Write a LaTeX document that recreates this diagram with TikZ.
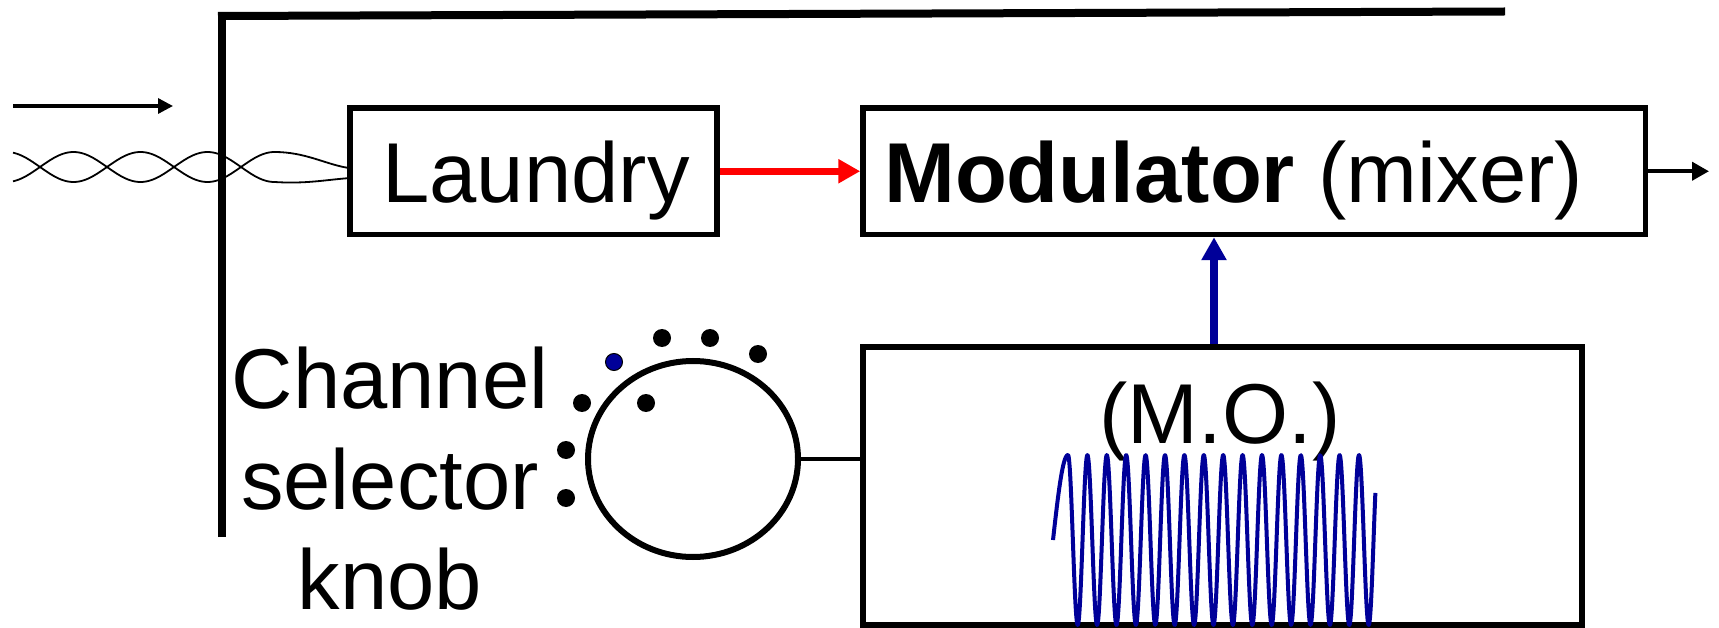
\documentclass[tikz,border=0pt]{standalone}
\usepackage{fontspec}
\setmainfont{Liberation Sans}
\usetikzlibrary{arrows.meta,calc,shapes.geometric}
\definecolor{navy}{RGB}{0,0,153}
\begin{document}
\begin{tikzpicture}[x=1pt,y=-1pt,
  box/.style={draw, line width=5.5pt, rectangle, inner sep=0pt},
  lbl/.style={font=\fontsize{85}{100}\selectfont, inner sep=0pt, anchor=base},
  dot/.style={circle, fill=black, inner sep=0pt, minimum size=18pt},
  bluedot/.style={circle, fill=navy, draw=black, line width=1pt, inner sep=0pt, minimum size=17pt},
  wire/.style={line width=1.8pt},
  wall/.style={line width=8pt}]
\useasboundingbox (0,0) rectangle (1719,628);
% boxes
\node[box, minimum width=367pt, minimum height=126.5pt] (laundry) at (533.5,171.25) {};
\node[box, minimum width=782.5pt, minimum height=126.5pt] (mod) at (1254.25,171.25) {};
\node[box, line width=6pt, minimum width=719pt, minimum height=278pt] (mo) at (1222.5,486) {};
\node[draw, ellipse, line width=6pt, minimum width=210pt, minimum height=196pt, inner sep=0pt] (knob) at (693,459) {};
% texts
\node[lbl] (tl) at (536,203) {Laundry};
\node[lbl, anchor=base west] (tm) at (884,203) {\textbf{Modulator} (mixer)};
\node[lbl] (tmo) at (1220,443) {(M.O.)};
\node[lbl] (c1) at (390,408) {Channel};
\node[lbl] (c2) at (390,509) {selector};
\node[lbl] (c3) at (390,609) {knob};
% wall
\coordinate (wtop) at (222,12);
\coordinate (wbot) at (222,537);
\coordinate (tstart) at (218,16);
\coordinate (tend) at (1505,11.5);
\draw[wall] (wbot) -- (wtop);
\draw[wall] (tstart) -- (tend);
% input arrow
\coordinate (ina) at (13,106);
\coordinate (inb) at (173,106);
\draw[line width=3.3pt, -{Triangle[length=15pt,width=15pt]}] (ina) -- (inb);
% twisted pair
\draw[wire] plot[domain=13:274.5, samples=120, smooth] (\x, {167-15*cos((\x-6.5)/67*180)})
   .. controls (305,152) and (325,164) .. ($(laundry.west)+(0,-3.5)$);
\draw[wire] plot[domain=13:274.5, samples=120, smooth] (\x, {167+15*cos((\x-6.5)/67*180)})
   .. controls (305,184) and (325,180) .. ($(laundry.west)+(0,7)$);
% connectors
\draw[red, line width=7pt, -{Triangle[length=22pt,width=23pt]}] (laundry.east) -- (laundry.east -| mod.west);
\coordinate (out) at (1709,171.25);
\draw[line width=4pt, -{Triangle[length=17pt,width=18pt]}] (mod.east) -- (out);
\coordinate (bx) at (1214,0);
\draw[navy, line width=8pt, -{Triangle[length=23pt,width=24pt]}] (mo.north -| bx) -- (mod.south -| bx);
\draw[line width=3.5pt] (knob.east) -- (knob.east -| mo.west);
% dots
\node[bluedot] (d0) at (614,362) {};
\node[dot] (d1) at (662,338) {};
\node[dot] (d2) at (710,338) {};
\node[dot] (d3) at (758,354) {};
\node[dot] (d4) at (582,403) {};
\node[dot] (d5) at (646,403) {};
\node[dot] (d6) at (566,450) {};
\node[dot] (d7) at (566,498) {};
% oscillator wave
\draw[navy, line width=4pt, line join=round]
  plot[domain=0:90, samples=20] ({1053+\x/90*15}, {540-85*sin(\x)})
  -- plot[domain=90:5793.6, samples=700] ({1068+(\x-90)/360*19.4}, {540-85*sin(\x)});
\end{tikzpicture}
\end{document}
